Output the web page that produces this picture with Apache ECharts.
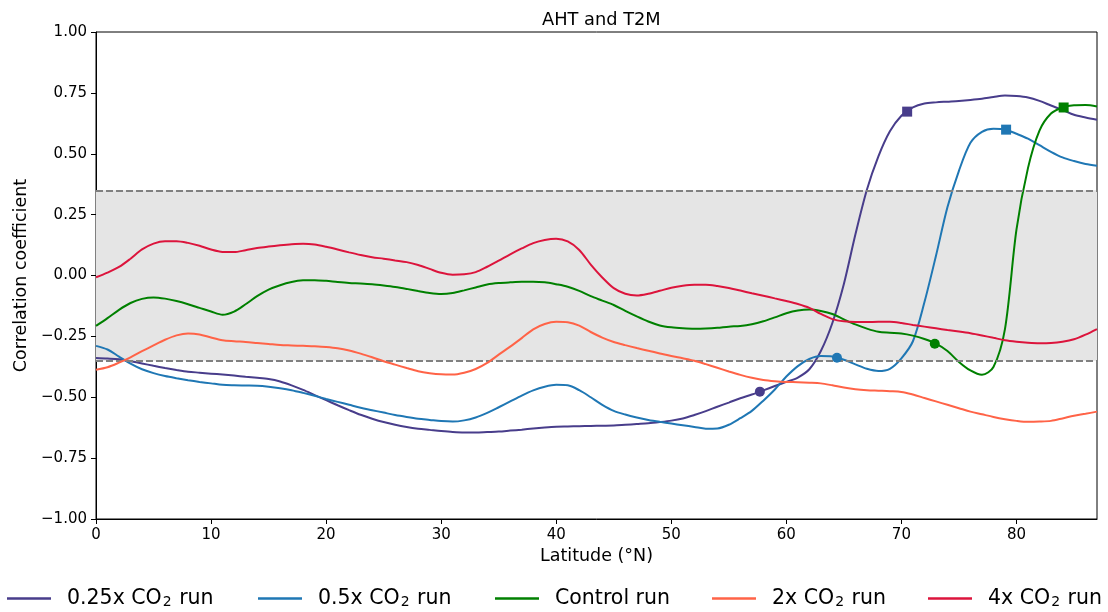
<!DOCTYPE html>
<html>
<head>
<meta charset="utf-8">
<script src="https://cdn.jsdelivr.net/npm/echarts@6/dist/echarts.min.js"></script>
<style>
  html, body { margin: 0; padding: 0; background: #fff; }
  #chart { width: 1108px; height: 612px; }
</style>
</head>
<body>
<div id="chart"></div>
<script>
// Latitude grid (degrees north) shared by all runs
const latitudes = Array.from({ length: 88 }, (_, i) => i);

// Correlation between AHT and T2M along latitude, one array per run
const run025x = [
  -0.339, -0.341, -0.344, -0.352, -0.361, -0.371, -0.380, -0.388, -0.395, -0.399,
  -0.403, -0.407, -0.411, -0.416, -0.420, -0.425, -0.435, -0.451, -0.470, -0.491,
  -0.512, -0.533, -0.553, -0.572, -0.588, -0.602, -0.613, -0.622, -0.629, -0.634,
  -0.639, -0.643, -0.645, -0.645, -0.643, -0.641, -0.637, -0.633, -0.628, -0.624,
  -0.621, -0.620, -0.619, -0.618, -0.617, -0.616, -0.613, -0.610, -0.607, -0.602,
  -0.596, -0.587, -0.573, -0.557, -0.539, -0.522, -0.504, -0.489, -0.472, -0.454,
  -0.437, -0.419, -0.385, -0.310, -0.195, -0.035, 0.168, 0.352, 0.489, 0.592,
  0.656, 0.690, 0.706, 0.711, 0.714, 0.717, 0.721, 0.726, 0.733, 0.739,
  0.737, 0.731, 0.717, 0.698, 0.680, 0.660, 0.649, 0.640
];
const run05x = [
  -0.289, -0.304, -0.333, -0.362, -0.385, -0.401, -0.413, -0.422, -0.430, -0.437,
  -0.443, -0.449, -0.451, -0.452, -0.453, -0.457, -0.463, -0.471, -0.482, -0.494,
  -0.507, -0.519, -0.531, -0.543, -0.553, -0.563, -0.573, -0.581, -0.588, -0.593,
  -0.598, -0.600, -0.595, -0.583, -0.564, -0.541, -0.517, -0.493, -0.472, -0.457,
  -0.449, -0.451, -0.471, -0.500, -0.531, -0.556, -0.571, -0.583, -0.593, -0.601,
  -0.608, -0.615, -0.622, -0.629, -0.628, -0.613, -0.586, -0.556, -0.514, -0.468,
  -0.415, -0.372, -0.343, -0.331, -0.333, -0.346, -0.365, -0.383, -0.392, -0.383,
  -0.340, -0.270, -0.110, 0.080, 0.280, 0.430, 0.545, 0.590, 0.603, 0.600,
  0.582, 0.562, 0.535, 0.508, 0.485, 0.470, 0.458, 0.451
];
const runControl = [
  -0.207, -0.175, -0.141, -0.113, -0.096, -0.090, -0.095, -0.105, -0.118, -0.133,
  -0.148, -0.161, -0.148, -0.118, -0.085, -0.058, -0.040, -0.027, -0.020, -0.019,
  -0.022, -0.027, -0.031, -0.033, -0.036, -0.041, -0.047, -0.055, -0.064, -0.072,
  -0.076, -0.072, -0.061, -0.049, -0.037, -0.031, -0.028, -0.026, -0.026, -0.028,
  -0.036, -0.046, -0.063, -0.085, -0.103, -0.121, -0.145, -0.168, -0.189, -0.205,
  -0.213, -0.217, -0.219, -0.218, -0.215, -0.210, -0.207, -0.200, -0.188, -0.172,
  -0.155, -0.144, -0.140, -0.146, -0.158, -0.180, -0.201, -0.218, -0.231, -0.235,
  -0.238, -0.247, -0.261, -0.280, -0.310, -0.355, -0.390, -0.408, -0.376, -0.220,
  0.188, 0.441, 0.595, 0.665, 0.690, 0.699, 0.700, 0.694
];
const run2x = [
  -0.387, -0.377, -0.358, -0.336, -0.311, -0.287, -0.264, -0.246, -0.238, -0.242,
  -0.255, -0.266, -0.270, -0.273, -0.277, -0.281, -0.285, -0.287, -0.289, -0.291,
  -0.294, -0.299, -0.308, -0.321, -0.336, -0.352, -0.366, -0.380, -0.393, -0.401,
  -0.406, -0.407, -0.399, -0.384, -0.359, -0.325, -0.292, -0.257, -0.221, -0.199,
  -0.190, -0.192, -0.206, -0.232, -0.255, -0.273, -0.286, -0.298, -0.309, -0.320,
  -0.331, -0.340, -0.350, -0.364, -0.379, -0.394, -0.408, -0.420, -0.429, -0.434,
  -0.437, -0.438, -0.440, -0.443, -0.451, -0.460, -0.467, -0.471, -0.473, -0.475,
  -0.478, -0.489, -0.503, -0.517, -0.531, -0.545, -0.559, -0.570, -0.581, -0.590,
  -0.597, -0.601, -0.600, -0.597, -0.587, -0.576, -0.568, -0.559
];
const run4x = [
  -0.007, 0.012, 0.035, 0.069, 0.107, 0.131, 0.141, 0.141, 0.134, 0.122,
  0.107, 0.097, 0.096, 0.104, 0.113, 0.119, 0.124, 0.128, 0.130, 0.127,
  0.118, 0.107, 0.095, 0.084, 0.075, 0.069, 0.062, 0.055, 0.043, 0.027,
  0.011, 0.003, 0.005, 0.014, 0.036, 0.061, 0.087, 0.111, 0.133, 0.146,
  0.151, 0.140, 0.105, 0.045, -0.008, -0.052, -0.075, -0.082, -0.075, -0.063,
  -0.050, -0.042, -0.038, -0.038, -0.043, -0.051, -0.062, -0.073, -0.083, -0.094,
  -0.105, -0.117, -0.133, -0.158, -0.179, -0.188, -0.191, -0.191, -0.190, -0.190,
  -0.195, -0.203, -0.210, -0.217, -0.224, -0.230, -0.237, -0.246, -0.256, -0.266,
  -0.272, -0.276, -0.278, -0.277, -0.272, -0.262, -0.243, -0.220
];

// Highlighted points: circle (lower) and square (upper) per run
const circleLat = [57.7, 64.4, 72.9];
const circleVal = [-0.477, -0.338, -0.280];
const squareLat = [70.5, 79.1, 84.1];
const squareVal = [0.673, 0.599, 0.690];

// Significance threshold (shaded band and dashed bounds)
const threshold = 0.35;

// Axis tick values
const xTicks = [0, 10, 20, 30, 40, 50, 60, 70, 80];

const runNames = ['0.25x CO₂ run', '0.5x CO₂ run', 'Control run', '2x CO₂ run', '4x CO₂ run'];
const runValues = [run025x, run05x, runControl, run2x, run4x];
const runColors = ['#483d8b', '#1f77b4', '#008000', '#ff6347', '#dc143c'];

const FONT = 'DejaVu Sans';

function pairs(xs, ys) {
  return xs.map((x, i) => [x, ys[i]]);
}

const series = [];

// Shaded band and dashed threshold lines
series.push({
  name: 'threshold',
  type: 'line',
  data: [],
  z: 1,
  silent: true,
  markArea: {
    silent: true,
    itemStyle: { color: '#e5e5e5' },
    data: [[{ yAxis: -threshold }, { yAxis: threshold }]]
  },
  markLine: {
    silent: true,
    symbol: 'none',
    label: { show: false },
    lineStyle: { color: '#808080', type: [7, 3], width: 2 },
    data: [{ yAxis: threshold }, { yAxis: -threshold }]
  }
});

runNames.forEach((name, i) => {
  series.push({
    name: name,
    type: 'line',
    data: pairs(latitudes, runValues[i]),
    showSymbol: false,
    symbol: 'none',
    smooth: 0.3,
    lineStyle: { color: runColors[i], width: 2 },
    itemStyle: { color: runColors[i] },
    z: 2 + i,
    silent: true
  });
});

// Markers for the first three runs
for (let i = 0; i < 3; i++) {
  series.push({
    name: runNames[i],
    type: 'scatter',
    symbol: 'circle',
    symbolSize: 10,
    data: [[circleLat[i], circleVal[i]]],
    itemStyle: { color: runColors[i], opacity: 1 },
    z: 10,
    silent: true
  });
  series.push({
    name: runNames[i],
    type: 'scatter',
    symbol: 'rect',
    symbolSize: 10,
    data: [[squareLat[i], squareVal[i]]],
    itemStyle: { color: runColors[i], opacity: 1 },
    z: 10,
    silent: true
  });
}

// One legend block per run so each entry sits at its own spot along the bottom
const legendLefts = [7, 258, 495, 712, 928];
const legends = runNames.map((name, i) => ({
  data: [{ name: name, itemStyle: { color: runColors[i] } }],
  left: legendLefts[i],
  top: 588,
  icon: 'rect',
  itemWidth: 44,
  itemHeight: 2.5,
  selectedMode: false,
  padding: 0,
  formatter: n => n.replace('₂', '{sub|2}'),
  textStyle: {
    fontFamily: FONT,
    fontSize: 20.5,
    color: '#000',
    padding: [0, 0, 0, 11],
    rich: {
      sub: { fontFamily: FONT, fontSize: 14, color: '#000', verticalAlign: 'bottom', padding: [0, 1, 0, 1] }
    }
  }
}));

const option = {
  animation: false,
  backgroundColor: '#fff',
  title: {
    text: 'AHT and T2M',
    left: 537,
    top: 6,
    textStyle: { fontFamily: FONT, fontSize: 17.8, fontWeight: 'normal', color: '#000' }
  },
  legend: legends,
  grid: {
    left: 96, right: 11, top: 32, bottom: 93,
    show: true, borderColor: '#000', borderWidth: 1, backgroundColor: 'transparent'
  },
  xAxis: {
    type: 'value',
    min: 0,
    max: 87,
    interval: 10,
    name: 'Latitude (°N)',
    nameLocation: 'middle',
    nameGap: 28,
    nameTextStyle: { fontFamily: FONT, fontSize: 17.5, color: '#000' },
    splitLine: { show: false },
    axisLine: { show: true, onZero: false, lineStyle: { color: '#000', width: 1 } },
    axisTick: { show: true, length: 5, inside: false, lineStyle: { color: '#000' }, customValues: xTicks },
    axisLabel: { fontFamily: FONT, fontSize: 15, color: '#000', margin: 9, customValues: xTicks, formatter: v => String(v) }
  },
  yAxis: {
    type: 'value',
    min: -1,
    max: 1,
    interval: 0.25,
    name: 'Correlation coefficient',
    nameLocation: 'middle',
    nameGap: 66,
    nameTextStyle: { fontFamily: FONT, fontSize: 17.5, color: '#000' },
    splitLine: { show: false },
    axisLine: { show: true, onZero: false, lineStyle: { color: '#000', width: 1 } },
    axisTick: { show: true, length: 5, inside: false, lineStyle: { color: '#000' } },
    axisLabel: {
      fontFamily: FONT, fontSize: 15, color: '#000', margin: 9,
      formatter: v => (v < 0 ? '\u2212' + Math.abs(v).toFixed(2) : v.toFixed(2))
    }
  },
  series: series
};

const chart = echarts.init(document.getElementById('chart'), null, { renderer: 'canvas' });
chart.setOption(option);
</script>
</body>
</html>
